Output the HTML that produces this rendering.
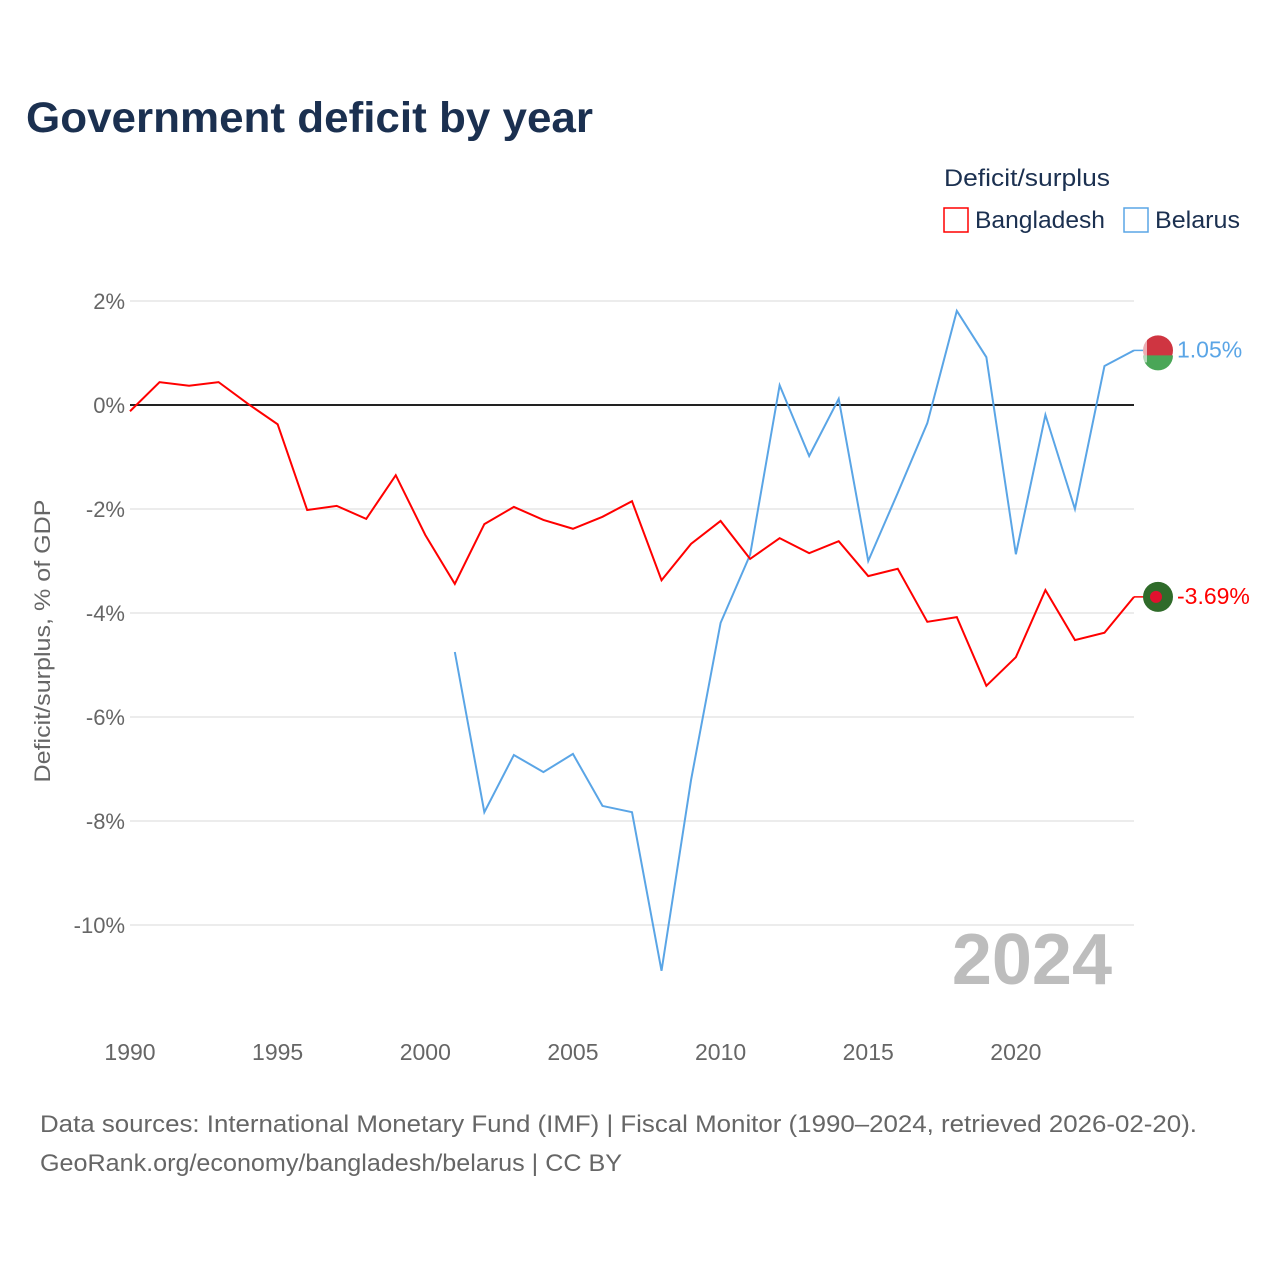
<!DOCTYPE html>
<html><head><meta charset="utf-8">
<style>
body{margin:0;background:#fff;font-family:"Liberation Sans",sans-serif;}
svg text{font-family:"Liberation Sans",sans-serif;}
</style></head>
<body>
<svg id="chart" width="1280" height="1280" viewBox="0 0 1280 1280">
<text x="26" y="132" font-size="43" font-weight="bold" fill="#1b3050" textLength="567" lengthAdjust="spacingAndGlyphs">Government deficit by year</text>
<g>
<text x="944" y="186" font-size="24" fill="#1b3050" textLength="166" lengthAdjust="spacingAndGlyphs">Deficit/surplus</text>
<g><rect x="944" y="208" width="24" height="24" fill="none" stroke="#ff0000" stroke-width="1.5"/><text x="975" y="228" font-size="24" fill="#1b3050" textLength="130" lengthAdjust="spacingAndGlyphs">Bangladesh</text></g>
<g><rect x="1124" y="208" width="24" height="24" fill="none" stroke="#5aa5e6" stroke-width="1.5"/><text x="1155" y="228" font-size="24" fill="#1b3050" textLength="85" lengthAdjust="spacingAndGlyphs">Belarus</text></g>
</g>
<g id="grid"></g>
<g id="series"></g>
<text x="1112" y="984" font-size="72" font-weight="bold" fill="#bdbdbd" text-anchor="end">2024</text>
<text transform="translate(50,641) rotate(-90)" font-size="22" fill="#666" text-anchor="middle" textLength="283" lengthAdjust="spacingAndGlyphs">Deficit/surplus, % of GDP</text>
<text x="40" y="1132" font-size="24" fill="#666" textLength="1157" lengthAdjust="spacingAndGlyphs">Data sources: International Monetary Fund (IMF) | Fiscal Monitor (1990–2024, retrieved 2026-02-20).</text>
<text x="40" y="1171" font-size="24" fill="#666" textLength="582" lengthAdjust="spacingAndGlyphs">GeoRank.org/economy/bangladesh/belarus | CC BY</text>
</svg>
<script>
const years=[];for(let y=1990;y<=2024;y++)years.push(y);
const bangladesh=[-0.12,0.44,0.37,0.44,0.02,-0.37,-2.02,-1.94,-2.19,-1.35,-2.5,-3.44,-2.29,-1.96,-2.21,-2.38,-2.15,-1.85,-3.37,-2.67,-2.23,-2.96,-2.56,-2.85,-2.62,-3.29,-3.15,-4.17,-4.08,-5.4,-4.85,-3.56,-4.52,-4.38,-3.69];
const belarusYears=[2001,2002,2003,2004,2005,2006,2007,2008,2009,2010,2011,2012,2013,2014,2015,2016,2017,2018,2019,2020,2021,2022,2023,2024];
const belarus=[-4.75,-7.83,-6.73,-7.06,-6.71,-7.71,-7.83,-10.88,-7.21,-4.19,-2.88,0.38,-0.98,0.12,-3.0,-1.69,-0.35,1.81,0.92,-2.87,-0.19,-2.0,0.75,1.05];
const yTicks=[2,0,-2,-4,-6,-8,-10];
const xTicks=[1990,1995,2000,2005,2010,2015,2020];
const NS='http://www.w3.org/2000/svg';
const xs=y=>130+(y-1990)*(1134-130)/34;
const ys=v=>405-v*52;
function mk(t,a,p){const e=document.createElementNS(NS,t);for(const k in a)e.setAttribute(k,a[k]);p.appendChild(e);return e;}
const grid=document.getElementById('grid'),ser=document.getElementById('series');
yTicks.forEach(v=>{
 const l=mk('line',{x1:130,x2:1134,y1:ys(v),y2:ys(v),stroke:v===0?'#222':'#e6e6e6','stroke-width':v===0?2:1.5},grid);
 
 
 const t=mk('text',{x:125,y:ys(v)+8,'font-size':22,fill:'#666','text-anchor':'end'},grid);
 t.textContent=v+'%';
 
 
});
xTicks.forEach(y=>{
 const t=mk('text',{x:xs(y),y:1060,'font-size':23,fill:'#666','text-anchor':'middle'},grid);
 t.textContent=y;
 
 
});
function line(xv,yv,c,name){
 const p=mk('polyline',{points:xv.map((x,i)=>xs(x)+','+ys(yv[i])).join(' '),fill:'none',stroke:c,'stroke-width':2},ser);
 
 
}
line(belarusYears,belarus,'#5aa5e6','belarus-line');
line(years,bangladesh,'#ff0000','bangladesh-line');
function endLabel(v,c,name,flag){
 const y=ys(v),x=1158;
 mk('line',{x1:1134,x2:x-12,y1:y,y2:y,stroke:c,'stroke-width':1.5},ser);
 const g=mk('g',{},ser);
 
 
 if(flag==='bd'){mk('circle',{cx:x,cy:y,r:15,fill:'#2f6b2a'},g);mk('circle',{cx:x-2,cy:y,r:6,fill:'#e0102e'},g);}
 else{mk('circle',{cx:x,cy:y,r:15,fill:'#cf3541'},g);mk('path',{d:`M${x-15},${y+5} L${x+15},${y+5} A15,15 0 0 1 ${x-15},${y+5}Z`,fill:'#4aa657'},g);mk('rect',{x:x-15,y:y-12,width:4,height:24,fill:'#fff',opacity:0.6},g);}
 const t=mk('text',{x:x+19,y:y+7,'font-size':23,fill:c},ser);
 t.textContent=v.toFixed(2)+'%';
 
 
}
endLabel(belarus[belarus.length-1],'#5aa5e6','belarus','by');
endLabel(bangladesh[bangladesh.length-1],'#ff0000','bangladesh','bd');
</script>
</body></html>
